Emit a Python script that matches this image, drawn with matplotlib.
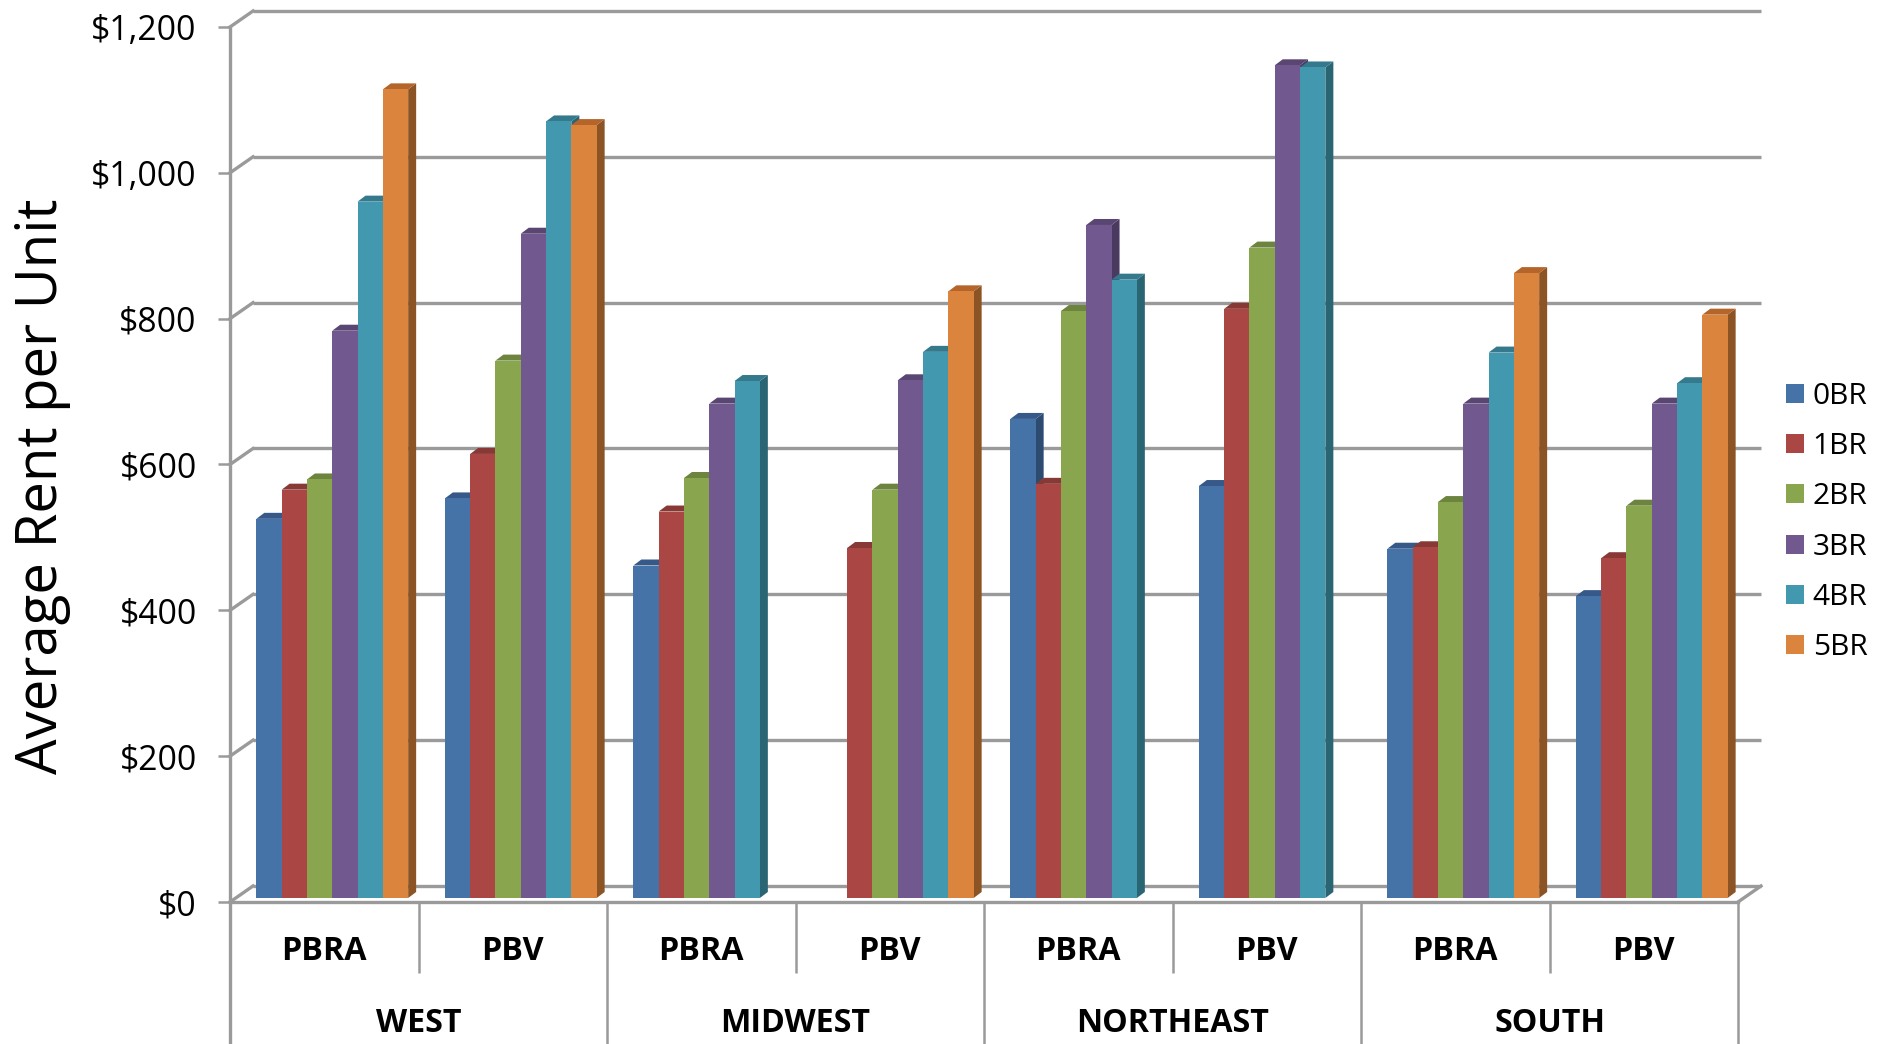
import numpy as np
import matplotlib
matplotlib.use('Agg')
import matplotlib.pyplot as plt
from matplotlib.patches import Polygon
from matplotlib.transforms import Affine2D

regions = ['WEST', 'MIDWEST', 'NORTHEAST', 'SOUTH']
programs = ['PBRA', 'PBV'] * 4
sizes = ['0BR', '1BR', '2BR', '3BR', '4BR', '5BR']
nan = float('nan')

# one list per bedroom size, one value per region/program group
rent_0br = [520, 548, 456, nan, 657, 565, 479, 414]
rent_1br = [560, 609, 530, 480, 568, 808, 481, 466]
rent_2br = [574, 737, 576, 560, 805, 892, 543, 538]
rent_3br = [778, 911, 678, 710, 923, 1142, 678, 678]
rent_4br = [955, 1065, 709, 749, 848, 1139, 748, 706]
rent_5br = [1109, 1060, nan, 832, nan, nan, 857, 800]
rents = [rent_0br, rent_1br, rent_2br, rent_3br, rent_4br, rent_5br]

y_ticks = [0, 200, 400, 600, 800, 1000, 1200]
y_labels = ['$0', '$200', '$400', '$600', '$800', '$1,000', '$1,200']

front = ['#4572A7', '#AA4643', '#89A54E', '#71588F', '#4198AF', '#DB843D']
side = ['#2D4B70', '#72302C', '#5B6F33', '#4A3A60', '#2A6574', '#8C5424']
top = ['#37598A', '#883835', '#6D843E', '#5A4672', '#34798C', '#B5652A']
grid_col = '#9A9A9A'

plt.rcParams['font.family'] = ['Open Sans', 'DejaVu Sans']

W, H = 1877, 1044
fig = plt.figure(figsize=(W / 100, H / 100), dpi=100)
ax = fig.add_axes([230 / W, (H - 902) / H, 1508 / W, 875 / H])
ax.set_xlim(0, 8)
ax.set_ylim(0, 1200)

px_x = 8 / 1508    # data units per pixel
px_y = 1200 / 875

# back wall and floor, shifted up and right in pixels
back = ax.transData + Affine2D().translate(23, 16)
ax.hlines(y_ticks, 0, 8, color=grid_col, lw=2.4, transform=back, zorder=1, clip_on=False)
for v in y_ticks:
    ax.plot([0, 23 * px_x], [v, v + 16 * px_y], color=grid_col, lw=2.4, zorder=1, clip_on=False)
ax.plot([8, 8 + 23 * px_x], [0, 16 * px_y], color=grid_col, lw=2.4, zorder=1, clip_on=False)

# bars
bar_w = 25.3 * px_x
dep_x = 8 * px_x
dep_y = 6 * px_y
bar_shift = ax.transData + Affine2D().translate(8, 4)
z = 3
handles = []
for g in range(8):
    for s in range(6):
        v = rents[s][g]
        if np.isnan(v):
            continue
        x0 = g + 0.5 + (s - 3) * bar_w
        x1 = x0 + bar_w
        ax.add_patch(Polygon([[x1, 0], [x1 + dep_x, dep_y], [x1 + dep_x, v + dep_y], [x1, v]],
                             fc=side[s], ec='none', transform=bar_shift, zorder=z, clip_on=False))
        ax.add_patch(Polygon([[x0, v], [x0 + dep_x, v + dep_y], [x1 + dep_x, v + dep_y], [x1, v]],
                             fc=top[s], ec='none', transform=bar_shift, zorder=z, clip_on=False))
        ax.bar(x0, v, bar_w, align='edge', color=front[s], transform=bar_shift, zorder=z, clip_on=False)
        z += 1

for s in range(6):
    handles.append(plt.Rectangle((0, 0), 1, 1, fc=front[s], ec='none'))

# axes lines
for name in ['top', 'right']:
    ax.spines[name].set_visible(False)
ax.spines['left'].set_color(grid_col)
ax.spines['left'].set_linewidth(2.4)
ax.spines['left'].set_bounds(-195, 1200)
ax.spines['bottom'].set_color(grid_col)
ax.spines['bottom'].set_linewidth(2.4)
ax.set_xticks([])
ax.set_yticks(y_ticks)
ax.set_yticklabels(y_labels, fontsize=24.3)
ax.tick_params(axis='y', length=8.5, width=1.8, color=grid_col, pad=15.5)
ax.set_facecolor('none')

# multi level category axis
for i in range(1, 9):
    low = -195 if i % 2 == 0 else -97
    ax.vlines(i, low, 0, color=grid_col, lw=1.8, clip_on=False)
for i, name in enumerate(programs):
    ax.text(i + 0.5, -68, name, ha='center', va='center', fontsize=23.2, fontweight='bold')
for i, name in enumerate(regions):
    ax.text(2 * i + 1, -166, name, ha='center', va='center', fontsize=23.2, fontweight='bold')

fig.text(43 / W, 1 - 486 / H, 'Average Rent per Unit', rotation=90, ha='center', va='center', fontsize=40.5)

fig.legend(handles, sizes, loc='center left', bbox_to_anchor=(1759 / W, 1 - 522 / H),
           frameon=False, fontsize=21.5, handlelength=0.6, handleheight=0.6,
           handletextpad=0.3, labelspacing=0.71)

fig.savefig('out.png', dpi=100)
